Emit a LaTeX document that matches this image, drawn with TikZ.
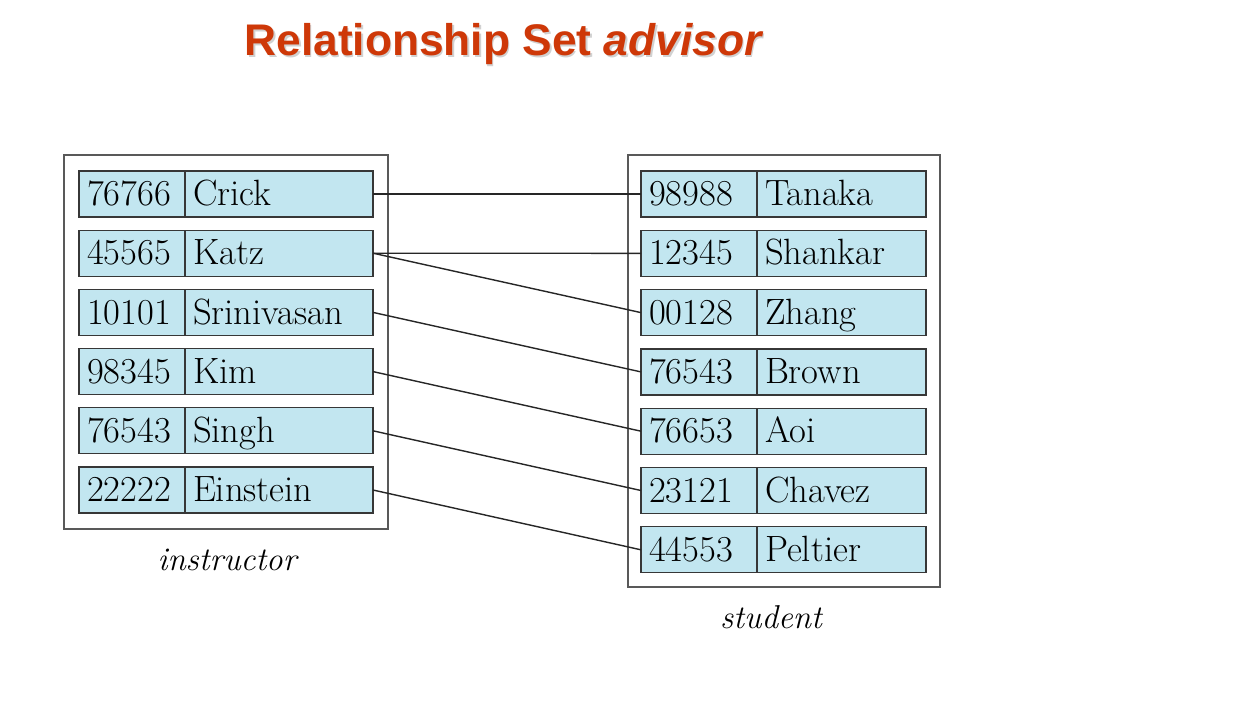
\documentclass[tikz,border=0pt]{standalone}
\usepackage{fontspec}
\newfontfamily\titlefont{Liberation Sans}
\usetikzlibrary{positioning}

\definecolor{titlered}{RGB}{206,56,8}
\definecolor{cellblue}{RGB}{194,230,240}
\definecolor{cellline}{RGB}{55,55,55}

\tikzset{
  setbox/.style={rectangle, draw=black!65, line width=1.3pt, outer sep=0pt, inner sep=0pt},
  cell/.style={rectangle, draw=cellline, fill=cellblue, line width=0.9pt, outer sep=0pt,
    minimum height=1.15cm, inner ysep=0pt, inner xsep=0.2cm, text width=#1, align=left,
    text height=17.5pt, text depth=1pt, font=\fontsize{26}{30}\selectfont},
  setlabel/.style={font=\fontsize{23.5}{28}\selectfont\itshape},
  link/.style={draw=black!85, line width=1pt},
}

\begin{document}
\begin{tikzpicture}[x=0.025cm, y=-0.025cm]
  \useasboundingbox (0,0) rectangle (1254,706);

  % title
  \node[anchor=base, text=black!18, font=\titlefont\fontsize{31.5}{36}\selectfont\bfseries] (titleshadow) at (505.5,57) {Relationship Set \textit{advisor}};
  \node[anchor=base, text=titlered, font=\titlefont\fontsize{31.5}{36}\selectfont\bfseries] (title) at (504,55) {Relationship Set \textit{advisor}};

  % entity sets
  \node[setbox, minimum width=8.1cm, minimum height=9.35cm] (insbox) at (226,342) {};
  \node[setbox, minimum width=7.8cm, minimum height=10.8cm] (stubox) at (784,371) {};

  \foreach \id/\name [count=\i] in {76766/Crick, 45565/Katz, 10101/Srinivasan, 98345/Kim, 76543/Singh, 22222/Einstein}{
    \node[cell=2.25cm, anchor=north west] (insid\i) at (79,{171+59.2*(\i-1)}) {\id};
    \node[cell=4.3cm, right=0pt of insid\i] (ins\i) {\name};
  }
  \foreach \id/\name [count=\i] in {98988/Tanaka, 12345/Shankar, 00128/Zhang, 76543/Brown, 76653/Aoi, 23121/Chavez, 44553/Peltier}{
    \node[cell=2.5cm, anchor=north west] (stu\i) at (641,{171+59.3*(\i-1)}) {\id};
    \node[cell=3.825cm, right=0pt of stu\i] (stuname\i) {\name};
  }

  \node[setlabel, anchor=base] (inslabel) at (227,570) {instructor};
  \node[setlabel, anchor=base] (stulabel) at (771,628) {student};

  % advisor pairs
  \draw[link] (ins1.east) -- (stu1.west);
  \draw[link] (ins2.east) -- (stu2.west);
  \draw[link] (ins2.east) -- (stu3.west);
  \draw[link] (ins3.east) -- (stu4.west);
  \draw[link] (ins4.east) -- (stu5.west);
  \draw[link] (ins5.east) -- (stu6.west);
  \draw[link] (ins6.east) -- (stu7.west);
\end{tikzpicture}
\end{document}
